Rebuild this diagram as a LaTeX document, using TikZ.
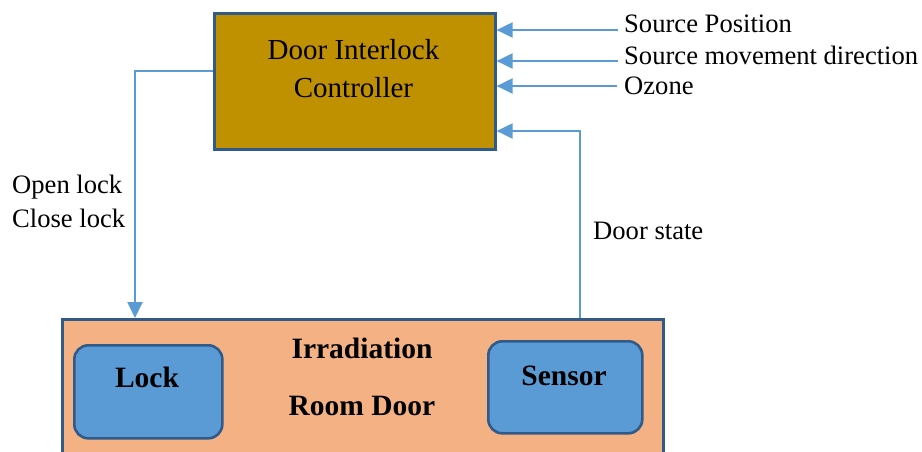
\documentclass[tikz,border=0pt]{standalone}
\usepackage{fontspec}
\setmainfont{Liberation Serif}
\usetikzlibrary{arrows.meta}
\definecolor{ctrlfill}{HTML}{BF9000}
\definecolor{roomfill}{HTML}{F4B183}
\definecolor{partfill}{HTML}{5B9BD5}
\definecolor{edgeblue}{HTML}{2F5A8A}
\definecolor{wireblue}{HTML}{5B9BD5}
\tikzset{
  boxedge/.style={draw=edgeblue, line width=2.6pt},
  part/.style={boxedge, fill=partfill, rounded corners=14pt},
  wire/.style={draw=wireblue, line width=2pt},
  signal/.style={wire, -{Triangle[length=16pt,width=15pt]}},
  lbl/.style={font=\fontsize{26.6}{31}\selectfont, inner sep=0pt},
  ctrllbl/.style={font=\fontsize{29}{34}\selectfont, inner sep=0pt},
  boldlbl/.style={font=\fontsize{29.5}{34}\selectfont\bfseries, inner sep=0pt},
}
\begin{document}
\begin{tikzpicture}[x=1pt,y=-1pt]
\useasboundingbox (0,0) rectangle (922,451);
\clip (0,0) rectangle (922,451);

% controller block
\node[boxedge, fill=ctrlfill, minimum width=281pt, minimum height=136pt, anchor=north west, inner sep=0pt] (ctrl) at (213,12) {};
\node[ctrllbl] (ctrlA) at (353.5,50) {Door Interlock};
\node[ctrllbl] (ctrlB) at (353.5,88) {Controller};

% irradiation room door (runs past the lower edge)
\node[boxedge, fill=roomfill, minimum width=601pt, minimum height=160pt, anchor=north west, inner sep=0pt] (room) at (61,318) {};
\node[boldlbl] (roomA) at (362,348) {Irradiation};
\node[boldlbl] (roomB) at (362,406) {Room Door};

% lock and sensor
\node[part, minimum width=148pt, minimum height=93pt, anchor=north west, inner sep=0pt] (lock) at (73,344) {};
\node[boldlbl] (lockT) at (147,377) {Lock};
\node[part, minimum width=154pt, minimum height=92pt, anchor=north west, inner sep=0pt] (sensor) at (487,340) {};
\node[boldlbl] (sensorT) at (564,376) {Sensor};

% input signals
\coordinate (inA) at (618,30);
\coordinate (inB) at (618,61);
\coordinate (inC) at (617,86);
\node[lbl, anchor=west] (srcpos) at (624,24) {Source Position};
\node[lbl, anchor=west] (srcdir) at (624,55) {Source movement direction};
\node[lbl, anchor=west] (ozone) at (624,86) {Ozone};
\draw[signal] (inA) -- (inA -| ctrl.east);
\draw[signal] (inB) -- (inB -| ctrl.east);
\draw[signal] (inC) -- (inC -| ctrl.east);

% lock command
\coordinate (cmdOut) at (213,71);
\coordinate (cmdBend) at (135,71);
\draw[signal] (cmdOut) -- (cmdBend) -- (cmdBend |- room.north);
\node[lbl, anchor=west] (openlk) at (12,187) {Open lock};
\node[lbl, anchor=west] (closelk) at (12,218) {Close lock};

% door state feedback
\coordinate (fbBase) at (580,318);
\coordinate (fbBend) at (580,131);
\draw[signal] (fbBase) -- (fbBend) -- (fbBend -| ctrl.east);
\node[lbl, anchor=west] (doorst) at (593,231) {Door state};
\end{tikzpicture}
\end{document}
